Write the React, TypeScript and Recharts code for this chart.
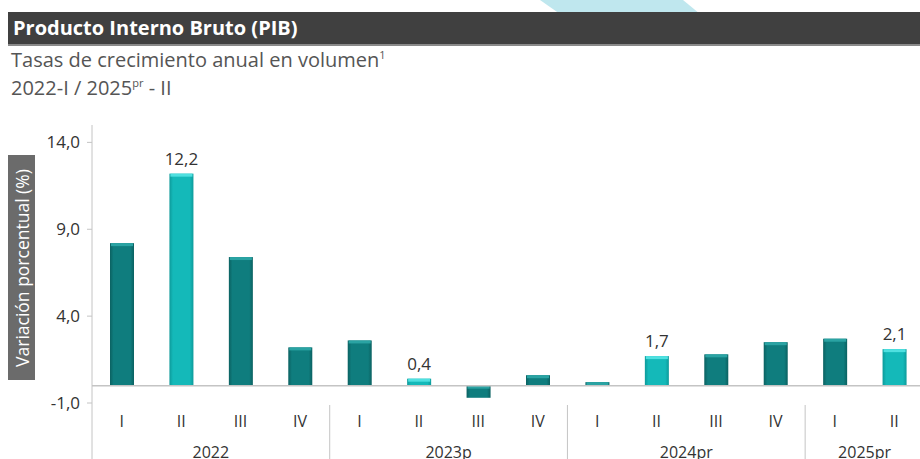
import { BarChart, Bar, XAxis, YAxis, ReferenceLine, LabelList } from 'recharts'

const quarters = ['I', 'II', 'III', 'IV', 'I', 'II', 'III', 'IV', 'I', 'II', 'III', 'IV', 'I', 'II']
const years = ['2022', '2022', '2022', '2022', '2023p', '2023p', '2023p', '2023p', '2024pr', '2024pr', '2024pr', '2024pr', '2025pr', '2025pr']
const growth = [8.2, 12.2, 7.4, 2.2, 2.6, 0.4, -0.7, 0.6, 0.2, 1.7, 1.8, 2.5, 2.7, 2.1]
const yTicks = [-1, 4, 9, 14]

const data = quarters.map((q, i) => ({
  key: `${years[i]}-${q}`,
  quarter: q,
  year: years[i],
  value: growth[i],
  highlight: q === 'II',
}))

const CHART_W = 924
const PLOT_LEFT = 92
const BAND = (CHART_W - PLOT_LEFT) / quarters.length
const FONT = '"Open Sans", "DejaVu Sans", sans-serif'

const fmt = (v: number) => v.toFixed(1).replace('.', ',')

function BevelBar(props: any) {
  const { x, y, width, height, payload } = props
  const top = Math.min(y, y + height)
  const h = Math.abs(height)
  if (!h) return null
  const light = payload.highlight
  return (
    <g>
      <rect x={x} y={top} width={width} height={h} fill={light ? 'url(#gLight)' : 'url(#gDark)'} />
      <rect x={x + 1} y={top} width={width - 2} height={Math.min(3, h)} fill={light ? '#4fe0e0' : '#2aa3a3'} />
    </g>
  )
}

function YearTick(props: any) {
  const { x, index } = props
  const start = x - BAND / 2
  const first = index === 0 || years[index - 1] !== years[index]
  if (!first) return null
  const count = years.filter((y) => y === years[index]).length
  return (
    <g>
      <line x1={start} x2={start} y1={index === 0 ? 403 : 405} y2={459} stroke="#c4c4c4" strokeWidth={1} />
      <text x={start + (count * BAND) / 2} y={458} textAnchor="middle" fontSize={16} fill="#333" fontFamily={FONT}>
        {years[index]}
      </text>
    </g>
  )
}

function ValueLabel(props: any) {
  const { x, y, width, index } = props
  if (!data[index].highlight) return null
  return (
    <text x={x + width / 2} y={y - 9} textAnchor="middle" fontSize={17} fill="#333" fontFamily={FONT}>
      {fmt(growth[index])}
    </text>
  )
}

const supStyle = { fontSize: 11, lineHeight: 0, verticalAlign: 'super' } as const

export default function App() {
  return (
    <div style={{ position: 'relative', width: 920, height: 459, overflow: 'hidden', background: '#fff', fontFamily: FONT }}>
      <style>{'body{margin:0}'}</style>
      <svg width={920} height={14} style={{ position: 'absolute', left: 0, top: 0 }}>
        <polygon points="540,0 683,0 700,14 560,14" fill="#bfe7ee" />
      </svg>
      <div
        style={{
          position: 'absolute',
          left: 8,
          top: 12,
          width: 912,
          height: 34,
          background: '#404040',
          borderBottom: '2px solid #8a8a8a',
          color: '#fff',
          fontSize: 20,
          fontWeight: 700,
          lineHeight: '32px',
          paddingLeft: 5,
          boxSizing: 'border-box',
        }}
      >
        Producto Interno Bruto (PIB)
      </div>
      <div style={{ position: 'absolute', left: 11, top: 46, color: '#555', fontSize: 20, lineHeight: '28px' }}>
        Tasas de crecimiento anual en volumen<span style={supStyle}>1</span>
        <br />
        2022-I / 2025<span style={supStyle}>pr</span> - II
      </div>
      <div
        style={{
          position: 'absolute',
          left: 8,
          top: 155,
          width: 27,
          height: 225,
          background: '#6b6b6b',
        }}
      >
        <div
          style={{
            position: 'absolute',
            left: 13.5,
            top: 112.5,
            transform: 'translate(-50%, -50%) rotate(-90deg)',
            whiteSpace: 'nowrap',
            color: '#fff',
            fontSize: 17.5,
          }}
        >
          Variación porcentual (%)
        </div>
      </div>
      <div style={{ position: 'absolute', left: 0, top: 0 }}>
        <BarChart
          width={CHART_W}
          height={459}
          data={data}
          margin={{ top: 125, right: 0, bottom: 0, left: 32 }}
          barSize={24}
        >
          <defs>
            <linearGradient id="gDark" x1="0" y1="0" x2="1" y2="0">
              <stop offset="0%" stopColor="#0b6161" />
              <stop offset="15%" stopColor="#0f7d7e" />
              <stop offset="85%" stopColor="#0f7d7e" />
              <stop offset="100%" stopColor="#0b6161" />
            </linearGradient>
            <linearGradient id="gLight" x1="0" y1="0" x2="1" y2="0">
              <stop offset="0%" stopColor="#0d9a9a" />
              <stop offset="15%" stopColor="#14b9b9" />
              <stop offset="85%" stopColor="#14b9b9" />
              <stop offset="100%" stopColor="#0d9a9a" />
            </linearGradient>
          </defs>
          <XAxis
            xAxisId="q"
            dataKey="key"
            height={32}
            axisLine={false}
            tickLine={false}
            tickSize={6}
            tickMargin={7}
            interval={0}
            tickFormatter={(_v: string, i: number) => quarters[i]}
            tick={{ fontSize: 16, fill: '#333', fontFamily: FONT }}
          />
          <XAxis
            xAxisId="y"
            dataKey="key"
            height={24}
            axisLine={false}
            tickLine={false}
            interval={0}
            tick={<YearTick />}
          />
          <YAxis
            width={60}
            domain={[-1, 15]}
            ticks={yTicks}
            interval={0}
            allowDataOverflow
            axisLine={{ stroke: '#c4c4c4' }}
            tickLine={{ stroke: '#c4c4c4' }}
            tickSize={5}
            tickMargin={7}
            tickFormatter={fmt}
            tick={{ fontSize: 17, fill: '#333', fontFamily: FONT }}
          />
          <ReferenceLine xAxisId="q" y={0} stroke="#c4c4c4" strokeWidth={1.5} />
          <Bar xAxisId="q" dataKey="value" shape={<BevelBar />} isAnimationActive={false}>
            <LabelList dataKey="value" content={<ValueLabel />} />
          </Bar>
        </BarChart>
      </div>
    </div>
  )
}
